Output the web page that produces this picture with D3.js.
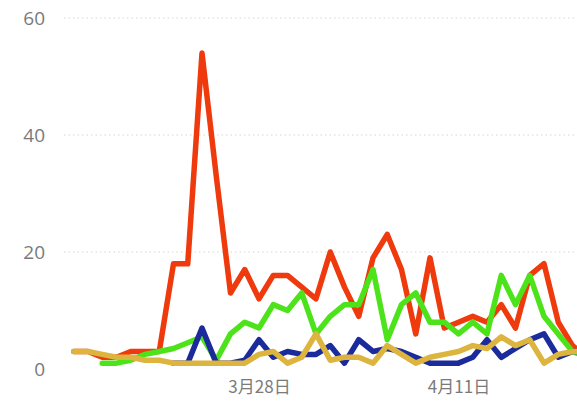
<!DOCTYPE html>
<html><head><meta charset="utf-8">
<script src="https://cdn.jsdelivr.net/npm/d3@7/dist/d3.min.js"></script>
<style>html,body{margin:0;padding:0;background:#fff;overflow:hidden}</style>
</head><body><svg id="c" width="577" height="401"></svg>
<script>
const startDate = "2020-03-15";
const dayCount = 37;
const redValues = [3,3,2,2,3,3,3,18,18,54,33,13,17,12,16,16,14,12,20,14,9,19,23,17,6,19,7,8,9,8,11,7,16,18,8,4,2];
const greenValues = [null,null,1,1,1.5,2.5,3,3.5,4.5,5.5,1.5,6,8,7,11,10,13,6,9,11,11,17,5,11,13,8,8,6,8,6,16,11,16,9,6,3,2];
const blueValues = [null,null,null,null,null,null,null,1,1,7,1,1,1.5,5,2,3,2.5,2.5,4,1,5,3,3.5,3,2,1,1,1,2,5,2,3.5,5,6,2,3,3];
const yellowValues = [3,3,2.5,2,2,1.5,1.5,1,1,1,1,1,1,2.5,3,1,2,6,1.5,2,2,1,4,2.5,1,2,2.5,3,4,3.5,5.5,4,5,1,2.5,3,3];
const yTicks = [0,20,40,60];
const xTickDates = ["2020-03-28","2020-04-11"];
const xTickLabels = ["3月28日","4月11日"];

const seriesList = [
  {name:"red", values: redValues, color:"#ee3a0c"},
  {name:"green", values: greenValues, color:"#4de31b"},
  {name:"blue", values: blueValues, color:"#1b2b9b"},
  {name:"yellow", values: yellowValues, color:"#dcb43e"}
];

const parse = d3.utcParse("%Y-%m-%d");
const d0 = parse(startDate);
const dates = d3.range(dayCount).map(i => d3.utcDay.offset(d0, i));

const x = d3.scaleUtc().domain([dates[0], dates[dayCount-1]]).range([73.75, 73.75 + 14.25*(dayCount-1)]);
const y = d3.scaleLinear().domain([0,60]).range([369, 18]);

const svg = d3.select("#c");

// grid
const gridG = svg.append("g");
gridG.selectAll("line").data(yTicks.filter(v=>v>0)).join("line")
  .attr("x1", 64).attr("x2", 577)
  .attr("y1", d=>y(d)).attr("y2", d=>y(d))
  .attr("stroke", "#d6d6d6").attr("stroke-width", 1)
  .attr("stroke-dasharray", "1.5 3");

// y axis
const yAxis = d3.axisLeft(y).tickValues(yTicks).tickSize(0).tickPadding(0);
const yg = svg.append("g").attr("transform","translate(45,0)").call(yAxis);
yg.select(".domain").remove();
yg.selectAll("text").attr("font-family","'Open Sans', sans-serif").attr("font-size","19px").attr("fill","#7a7a7a").attr("dy","0.35em");

// x axis
const xAxis = d3.axisBottom(x).tickValues(xTickDates.map(parse)).tickSize(0).tickPadding(0)
  .tickFormat((d,i)=>xTickLabels[i]);
const xg = svg.append("g").attr("transform","translate(0,393)").call(xAxis);
xg.select(".domain").remove();
xg.selectAll("text").attr("font-family","'Noto Sans CJK SC', sans-serif").attr("font-size","17px").attr("fill","#7a7a7a").attr("dy","0");

// lines
const line = d3.line().defined(d=>d.v!=null).x(d=>x(d.date)).y(d=>y(d.v));
svg.append("g").selectAll("path").data(seriesList).join("path")
  .attr("d", s => line(s.values.map((v,i)=>({date:dates[i], v}))))
  .attr("fill","none").attr("stroke", s=>s.color).attr("stroke-width", 5.5)
  .attr("stroke-linejoin","round").attr("stroke-linecap","round");
</script></body></html>
